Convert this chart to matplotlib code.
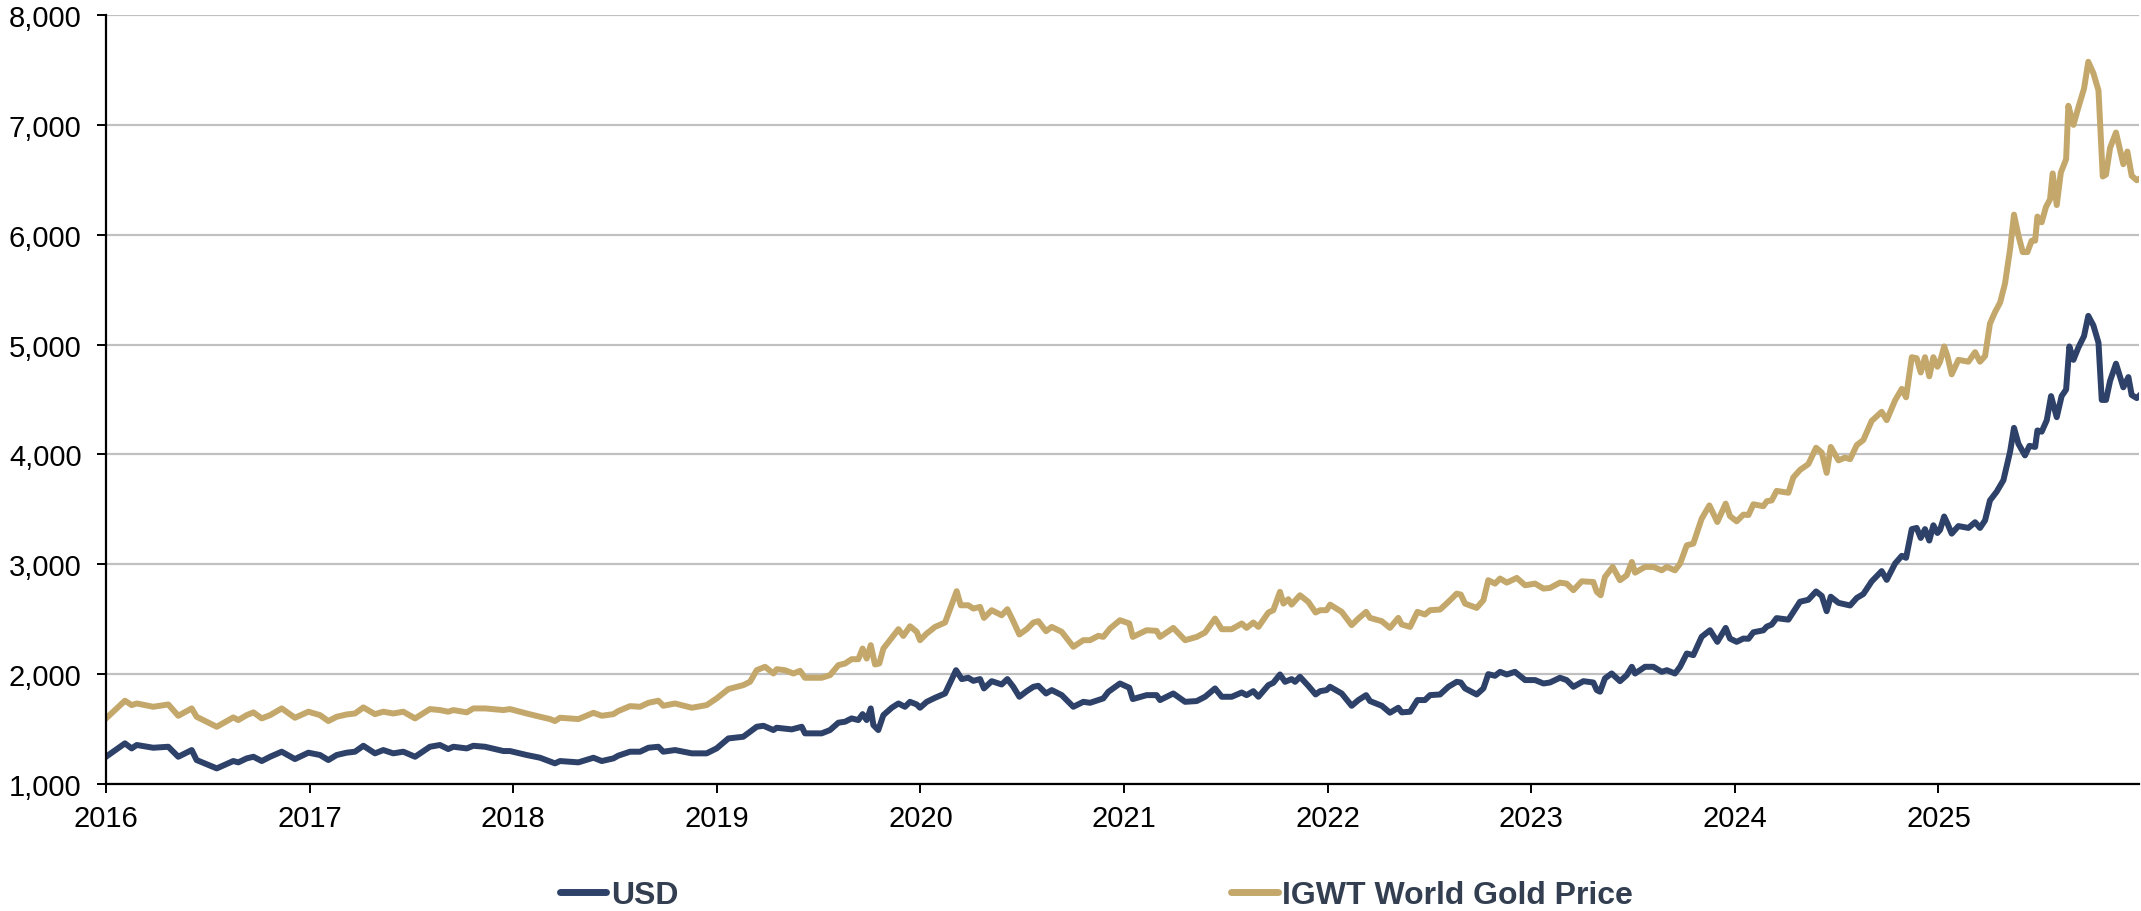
import matplotlib
matplotlib.use("Agg")
import matplotlib.pyplot as plt
from matplotlib.lines import Line2D
from matplotlib.ticker import FuncFormatter, FixedLocator
from matplotlib import font_manager

# ---------------- data (decimal years) ----------------
usd_dates = [
    2016.000, 2016.093, 2016.126, 2016.151, 2016.232, 2016.306, 2016.355, 2016.421, 2016.445, 2016.544,
    2016.625, 2016.650, 2016.691, 2016.724, 2016.765, 2016.806, 2016.863, 2016.928, 2016.994, 2017.051,
    2017.092, 2017.133, 2017.182, 2017.223, 2017.264, 2017.321, 2017.362, 2017.411, 2017.460, 2017.518,
    2017.591, 2017.640, 2017.681, 2017.706, 2017.772, 2017.804, 2017.862, 2017.952,
    2017.984, 2018.066, 2018.132, 2018.205, 2018.230, 2018.320, 2018.394, 2018.435, 2018.492, 2018.516,
    2018.574, 2018.623, 2018.664, 2018.713, 2018.737, 2018.795, 2018.877, 2018.950, 2018.999, 2019.057,
    2019.130, 2019.196, 2019.229, 2019.278, 2019.294, 2019.368, 2019.417, 2019.433, 2019.515, 2019.556,
    2019.597, 2019.630, 2019.662, 2019.695, 2019.716, 2019.736, 2019.756, 2019.769, 2019.793, 2019.818,
    2019.859, 2019.892, 2019.924, 2019.949, 2019.982,
    2019.998, 2020.031, 2020.072, 2020.121, 2020.175, 2020.203, 2020.235, 2020.260, 2020.293, 2020.312,
    2020.350, 2020.399, 2020.427, 2020.456, 2020.486, 2020.522, 2020.555, 2020.579, 2020.617, 2020.645,
    2020.694, 2020.751, 2020.800, 2020.833, 2020.898, 2020.923, 2020.980, 2021.026, 2021.043, 2021.111,
    2021.160, 2021.177, 2021.242, 2021.300, 2021.357, 2021.398, 2021.447, 2021.480, 2021.529, 2021.578,
    2021.602, 2021.635, 2021.660, 2021.709, 2021.733, 2021.766, 2021.791, 2021.823, 2021.840, 2021.864,
    2021.905, 2021.941, 2021.963, 2021.995,
    2022.012, 2022.069, 2022.118, 2022.151, 2022.189, 2022.208, 2022.266, 2022.306, 2022.347, 2022.364,
    2022.405, 2022.441, 2022.478, 2022.503, 2022.552, 2022.593, 2022.634, 2022.654, 2022.675, 2022.732,
    2022.765, 2022.789, 2022.822, 2022.847, 2022.880, 2022.920, 2022.970, 2023.019, 2023.060, 2023.092,
    2023.141, 2023.174, 2023.207, 2023.256, 2023.305, 2023.322, 2023.338, 2023.362, 2023.395, 2023.436,
    2023.469, 2023.494, 2023.510, 2023.559, 2023.600, 2023.641, 2023.666, 2023.706, 2023.731, 2023.764,
    2023.796, 2023.837, 2023.878, 2023.914, 2023.955, 2023.976, 2024.009, 2024.042,
    2024.067, 2024.091, 2024.140, 2024.157, 2024.181, 2024.205, 2024.263, 2024.287, 2024.320, 2024.361,
    2024.399, 2024.427, 2024.451, 2024.471, 2024.509, 2024.541, 2024.566, 2024.599, 2024.631, 2024.672,
    2024.721, 2024.746, 2024.787, 2024.820, 2024.841, 2024.869, 2024.893, 2024.913, 2024.934, 2024.955,
    2024.975, 2024.995,
    2025.008, 2025.028, 2025.044, 2025.065, 2025.098, 2025.147, 2025.180, 2025.204, 2025.229, 2025.253,
    2025.286, 2025.319, 2025.352, 2025.371, 2025.393, 2025.425, 2025.447, 2025.475, 2025.486, 2025.507,
    2025.532, 2025.553, 2025.581, 2025.605, 2025.627, 2025.643, 2025.663, 2025.687, 2025.715, 2025.736,
    2025.761, 2025.786, 2025.802, 2025.823, 2025.843, 2025.872, 2025.908, 2025.933, 2025.949, 2025.974,
    2025.990,
]
usd = [
    1248, 1370, 1324, 1355, 1330, 1339, 1248, 1309, 1218, 1142,
    1209, 1197, 1233, 1248, 1209, 1248, 1294, 1227, 1285, 1264,
    1218, 1264, 1285, 1294, 1348, 1279, 1309, 1279, 1294, 1248,
    1339, 1355, 1318, 1339, 1324, 1348, 1339, 1300,
    1300, 1264, 1239, 1188, 1209, 1197, 1239, 1209, 1233, 1258,
    1294, 1294, 1330, 1339, 1294, 1309, 1279, 1279, 1324, 1415,
    1430, 1521, 1530, 1491, 1512, 1497, 1521, 1461, 1461, 1491,
    1558, 1567, 1597, 1582, 1636, 1582, 1688, 1536, 1491, 1627,
    1694, 1733, 1703, 1748, 1724,
    1694, 1748, 1785, 1824, 2036, 1955, 1967, 1939, 1955, 1870,
    1936, 1906, 1955, 1885, 1794, 1845, 1885, 1894, 1824, 1855,
    1809, 1703, 1748, 1739, 1779, 1839, 1915, 1876, 1773, 1809,
    1809, 1764, 1824, 1748, 1755, 1794, 1870, 1794, 1794, 1833,
    1809, 1845, 1794, 1900, 1921, 1997, 1930, 1955, 1930, 1976,
    1894, 1815, 1845, 1855,
    1885, 1824, 1712, 1764, 1809, 1755, 1712, 1649, 1694, 1652,
    1658, 1764, 1764, 1809, 1815, 1885, 1930, 1924, 1870, 1815,
    1870, 2000, 1985, 2021, 1997, 2021, 1946, 1946, 1915, 1924,
    1967, 1946, 1885, 1936, 1924, 1855, 1840, 1961, 2006, 1936,
    1991, 2067, 2006, 2067, 2067, 2021, 2036, 2006, 2067, 2188,
    2173, 2340, 2400, 2294, 2421, 2324, 2294, 2324,
    2322, 2381, 2399, 2433, 2451, 2510, 2496, 2565, 2659, 2677,
    2753, 2712, 2573, 2705, 2649, 2635, 2625, 2694, 2729, 2844,
    2938, 2858, 3007, 3077, 3059, 3320, 3331, 3240, 3320, 3216,
    3355, 3285,
    3313, 3435, 3372, 3279, 3348, 3331, 3383, 3331, 3400, 3581,
    3661, 3765, 4026, 4242, 4096, 3991, 4078, 4068, 4218, 4207,
    4311, 4531, 4339, 4531, 4590, 4983, 4861, 4972, 5077, 5261,
    5174, 5017, 4496, 4496, 4670, 4826, 4611, 4704, 4541, 4513,
    4541,
]

gold_dates = [
    2016.000, 2016.093, 2016.126, 2016.151, 2016.232, 2016.306, 2016.355, 2016.421, 2016.445, 2016.544,
    2016.625, 2016.650, 2016.691, 2016.724, 2016.765, 2016.806, 2016.863, 2016.928, 2016.994, 2017.051,
    2017.092, 2017.133, 2017.182, 2017.223, 2017.264, 2017.321, 2017.362, 2017.411, 2017.460, 2017.518,
    2017.591, 2017.640, 2017.681, 2017.706, 2017.772, 2017.804, 2017.862, 2017.952,
    2017.984, 2018.066, 2018.132, 2018.181, 2018.205, 2018.230, 2018.320, 2018.394, 2018.435, 2018.492,
    2018.516, 2018.574, 2018.623, 2018.664, 2018.713, 2018.737, 2018.795, 2018.877, 2018.950, 2018.999,
    2019.057, 2019.130, 2019.163, 2019.196, 2019.237, 2019.278, 2019.294, 2019.335, 2019.376, 2019.409,
    2019.433, 2019.515, 2019.556, 2019.597, 2019.630, 2019.662, 2019.695, 2019.716, 2019.736, 2019.756,
    2019.777, 2019.798, 2019.818, 2019.859, 2019.892, 2019.916, 2019.949, 2019.982,
    2019.998, 2020.031, 2020.072, 2020.121, 2020.178, 2020.198, 2020.235, 2020.260, 2020.293, 2020.312,
    2020.350, 2020.399, 2020.427, 2020.456, 2020.486, 2020.522, 2020.555, 2020.579, 2020.617, 2020.645,
    2020.694, 2020.751, 2020.800, 2020.833, 2020.874, 2020.898, 2020.931, 2020.980, 2021.026, 2021.043,
    2021.111, 2021.160, 2021.177, 2021.242, 2021.300, 2021.357, 2021.398, 2021.447, 2021.480, 2021.529,
    2021.578, 2021.602, 2021.635, 2021.660, 2021.709, 2021.733, 2021.766, 2021.783, 2021.807, 2021.823,
    2021.864, 2021.905, 2021.941, 2021.963, 2021.995,
    2022.012, 2022.069, 2022.118, 2022.151, 2022.189, 2022.208, 2022.266, 2022.306, 2022.347, 2022.364,
    2022.405, 2022.441, 2022.478, 2022.503, 2022.552, 2022.593, 2022.634, 2022.654, 2022.675, 2022.732,
    2022.765, 2022.789, 2022.822, 2022.847, 2022.880, 2022.929, 2022.970, 2023.019, 2023.060, 2023.092,
    2023.141, 2023.174, 2023.207, 2023.248, 2023.305, 2023.322, 2023.341, 2023.362, 2023.400, 2023.436,
    2023.469, 2023.494, 2023.510, 2023.559, 2023.600, 2023.641, 2023.666, 2023.706, 2023.731, 2023.764,
    2023.796, 2023.837, 2023.875, 2023.914, 2023.955, 2023.976, 2024.009, 2024.042,
    2024.067, 2024.091, 2024.140, 2024.157, 2024.181, 2024.205, 2024.263, 2024.287, 2024.320, 2024.361,
    2024.399, 2024.427, 2024.451, 2024.471, 2024.509, 2024.541, 2024.566, 2024.599, 2024.631, 2024.672,
    2024.721, 2024.746, 2024.787, 2024.820, 2024.841, 2024.869, 2024.893, 2024.913, 2024.934, 2024.955,
    2024.975, 2024.995,
    2025.008, 2025.028, 2025.044, 2025.065, 2025.098, 2025.147, 2025.180, 2025.204, 2025.229, 2025.253,
    2025.278, 2025.303, 2025.327, 2025.352, 2025.371, 2025.393, 2025.414, 2025.437, 2025.458, 2025.475,
    2025.486, 2025.507, 2025.528, 2025.548, 2025.561, 2025.581, 2025.601, 2025.627, 2025.638, 2025.663,
    2025.687, 2025.715, 2025.736, 2025.761, 2025.786, 2025.807, 2025.823, 2025.843, 2025.872, 2025.908,
    2025.928, 2025.949, 2025.974, 2025.990,
]
gold = [
    1597, 1758, 1718, 1733, 1703, 1724, 1621, 1688, 1612, 1521,
    1606, 1582, 1627, 1652, 1597, 1627, 1688, 1603, 1658, 1627,
    1573, 1612, 1633, 1642, 1697, 1636, 1658, 1642, 1658, 1597,
    1682, 1673, 1658, 1673, 1652, 1688, 1688, 1673,
    1682, 1642, 1612, 1591, 1573, 1603, 1591, 1648, 1621, 1636,
    1664, 1709, 1703, 1739, 1758, 1712, 1733, 1694, 1718, 1779,
    1864, 1900, 1930, 2036, 2067, 2006, 2045, 2036, 2006, 2030,
    1967, 1967, 1991, 2082, 2097, 2136, 2136, 2233, 2142, 2264,
    2088, 2097, 2233, 2330, 2409, 2348, 2436, 2385,
    2309, 2370, 2430, 2470, 2755, 2627, 2627, 2597, 2612, 2512,
    2582, 2536, 2591, 2482, 2361, 2409, 2470, 2482, 2391, 2430,
    2385, 2249, 2309, 2309, 2349, 2339, 2415, 2491, 2461, 2339,
    2400, 2394, 2339, 2421, 2309, 2339, 2379, 2506, 2409, 2409,
    2461, 2421, 2470, 2430, 2561, 2582, 2749, 2642, 2682, 2633,
    2718, 2658, 2561, 2582, 2582,
    2633, 2567, 2446, 2506, 2567, 2512, 2482, 2421, 2512, 2452,
    2430, 2567, 2543, 2582, 2588, 2658, 2733, 2724, 2642, 2603,
    2673, 2855, 2824, 2870, 2833, 2876, 2809, 2824, 2779, 2785,
    2833, 2824, 2764, 2845, 2839, 2749, 2718, 2885, 2976, 2855,
    2900, 3021, 2924, 2976, 2976, 2945, 2976, 2945, 3006, 3173,
    3188, 3415, 3536, 3385, 3552, 3439, 3391, 3452,
    3449, 3546, 3529, 3574, 3581, 3668, 3651, 3790, 3859, 3912,
    4061, 4016, 3832, 4068, 3946, 3971, 3957, 4085, 4131, 4305,
    4388, 4312, 4492, 4597, 4520, 4885, 4875, 4746, 4885, 4711,
    4885, 4798,
    4844, 4983, 4896, 4729, 4861, 4844, 4931, 4844, 4896, 5191,
    5296, 5383, 5557, 5870, 6183, 5991, 5842, 5842, 5946, 5946,
    6165, 6113, 6252, 6322, 6558, 6270, 6565, 6687, 7174, 7000,
    7157, 7330, 7574, 7470, 7313, 6530, 6548, 6791, 6930, 6642,
    6757, 6537, 6496, 6513,
]

year_ticks = [2016, 2017, 2018, 2019, 2020, 2021, 2022, 2023, 2024, 2025]
value_ticks = [1000, 2000, 3000, 4000, 5000, 6000, 7000, 8000]
series_labels = ["USD", "IGWT World Gold Price"]

# ---------------- style ----------------
NAVY = "#2E4169"
GOLD = "#C4A86B"
TEXT_DARK = "#333F50"

names = {f.name for f in font_manager.fontManager.ttflist}
base_font = "Liberation Sans" if "Liberation Sans" in names else "DejaVu Sans"
legend_font = "Liberation Sans Narrow" if "Liberation Sans Narrow" in names else base_font
plt.rcParams["font.family"] = [base_font, "DejaVu Sans"]

fig = plt.figure(figsize=(21.41, 9.12), dpi=100)
ax = fig.add_axes([106 / 2141, 1 - 785 / 912, (2139 - 106) / 2141, (785 - 16) / 912])

ax.plot(usd_dates, usd, color=NAVY, lw=4.3, solid_joinstyle="round", zorder=3)
ax.plot(gold_dates, gold, color=GOLD, lw=4.3, solid_joinstyle="round", zorder=3)

ax.set_xlim(2016, 2025.985)
ax.set_ylim(1000, 8000)
ax.xaxis.set_major_locator(FixedLocator(year_ticks))
ax.set_xticklabels([str(y) for y in year_ticks])
ax.yaxis.set_major_locator(FixedLocator(value_ticks))
ax.yaxis.set_major_formatter(FuncFormatter(lambda v, p: f"{int(v):,}"))

ax.grid(axis="y", color="#C0C0C0", lw=1.6, zorder=0)
ax.set_axisbelow(True)
for s in ["top", "right"]:
    ax.spines[s].set_visible(False)
for s in ["left", "bottom"]:
    ax.spines[s].set_color("black")
    ax.spines[s].set_linewidth(1.6)
    ax.spines[s].set_zorder(4)

ax.tick_params(axis="both", direction="out", length=6.5, width=1.4, color="black",
               labelsize=21, labelcolor="black")
ax.tick_params(axis="y", pad=11)
ax.tick_params(axis="x", pad=8)

handles = [Line2D([0], [0], color=NAVY, lw=5, solid_capstyle="round"),
           Line2D([0], [0], color=GOLD, lw=5, solid_capstyle="round")]
leg = fig.legend(handles, series_labels, loc="center left",
                 bbox_to_anchor=(560 / 2141, 1 - 896 / 912), ncol=2, frameon=False,
                 borderpad=0, borderaxespad=0, handlelength=1.45, handletextpad=0.15,
                 columnspacing=17.3,
                 prop={"family": [legend_font, "DejaVu Sans"], "weight": "bold", "size": 23})
for t in leg.get_texts():
    t.set_color(TEXT_DARK)

fig.savefig("out.png", dpi=100, facecolor="white")
